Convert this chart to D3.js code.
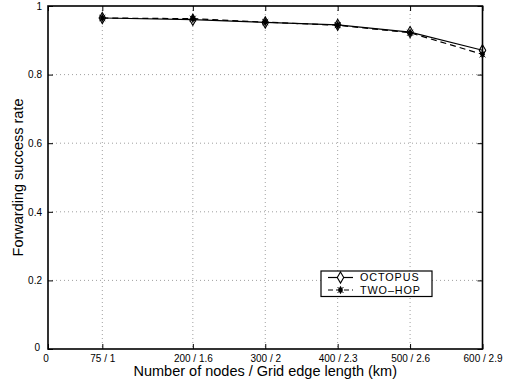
<!DOCTYPE html>
<html>
<head>
<meta charset="utf-8">
<script src="https://cdn.jsdelivr.net/npm/d3@7"></script>
<style>
  body { margin: 0; background: #fff; }
  text { font-family: "Liberation Sans", Arial, sans-serif; fill: #000; }
</style>
</head>
<body>
<script>
// data
const nodes = [75, 200, 300, 400, 500, 600];
const tickLabels = ["0", "75 / 1", "200 / 1.6", "300 / 2", "400 / 2.3", "500 / 2.6", "600 / 2.9"];
const xTicks = [0, 75, 200, 300, 400, 500, 600];
const yTicks = [0, 0.2, 0.4, 0.6, 0.8, 1];
const octopus = [0.965, 0.960, 0.952, 0.945, 0.924, 0.871];
const twoHop = [0.965, 0.963, 0.953, 0.944, 0.922, 0.859];
const seriesNames = ["OCTOPUS", "TWO\u2013HOP"];

const width = 508, height = 383;
const mLeft = 48, mRight = 482.5, mTop = 6, mBottom = 349;

const svg = d3.select("body").append("svg").attr("width", width).attr("height", height);

const x = d3.scaleLinear().domain([0, 600]).range([mLeft, mRight]);
const y = d3.scaleLinear().domain([0, 1]).range([mBottom, mTop]);

// grid
const grid = svg.append("g").attr("stroke", "#888").attr("stroke-width", 0.8).attr("stroke-dasharray", "1,3");
grid.selectAll(".vg").data(xTicks.slice(1, -1)).enter().append("line")
    .attr("x1", d => x(d)).attr("x2", d => x(d)).attr("y1", mTop).attr("y2", mBottom);
grid.selectAll(".hg").data(yTicks.slice(1, -1)).enter().append("line")
    .attr("x1", mLeft).attr("x2", mRight).attr("y1", d => y(d)).attr("y2", d => y(d));

// axes, ticks inward on all four sides
const xAxis = d3.axisBottom(x).tickValues(xTicks).tickSizeInner(-5).tickSizeOuter(0).tickPadding(6)
    .tickFormat((d, i) => tickLabels[i]);
const gx = svg.append("g").attr("transform", `translate(0,${mBottom})`).call(xAxis);
gx.select(".domain").remove();
gx.selectAll("text").attr("font-size", 10);
gx.selectAll(".tick").filter(d => d === 0).select("text").attr("dx", -2.5);

const yAxis = d3.axisLeft(y).tickValues(yTicks).tickSizeInner(-5).tickSizeOuter(0).tickPadding(6)
    .tickFormat(d => d === 0 ? "0" : d3.format("~g")(d));
const gy = svg.append("g").attr("transform", `translate(${mLeft},0)`).call(yAxis);
gy.select(".domain").remove();
gy.selectAll("text").attr("font-size", 10);
gy.selectAll(".tick").filter(d => d === 0).select("text").attr("dy", "0.1em").attr("x", -8);

svg.append("g").attr("transform", `translate(0,${mTop})`)
    .call(d3.axisTop(x).tickValues(xTicks).tickSizeInner(-5).tickSizeOuter(0).tickFormat(""))
    .select(".domain").remove();
svg.append("g").attr("transform", `translate(${mRight},0)`)
    .call(d3.axisRight(y).tickValues(yTicks).tickSizeInner(-5).tickSizeOuter(0).tickFormat(""))
    .select(".domain").remove();

svg.append("rect").attr("x", mLeft).attr("y", mTop).attr("width", mRight - mLeft).attr("height", mBottom - mTop)
    .attr("fill", "none").attr("stroke", "#000").attr("stroke-width", 1.6);

// titles
svg.append("text").attr("x", (mLeft + mRight) / 2).attr("y", 376).attr("text-anchor", "middle")
    .attr("font-size", 14.5).text("Number of nodes / Grid edge length (km)");
svg.append("text").attr("transform", `translate(23,${(mTop + mBottom) / 2}) rotate(-90)`)
    .attr("text-anchor", "middle").attr("font-size", 14.5).text("Forwarding success rate");

// series
const line = d3.line().x((d, i) => x(nodes[i])).y(d => y(d));
svg.append("path").datum(twoHop).attr("d", line).attr("fill", "none").attr("stroke", "#000")
    .attr("stroke-width", 1.2).attr("stroke-dasharray", "6,4");
svg.append("path").datum(octopus).attr("d", line).attr("fill", "none").attr("stroke", "#000")
    .attr("stroke-width", 1.2);

const diamond = d3.symbol().type(d3.symbolDiamond).size(36);

function starMarks(g) {
  g.append("path").attr("d", d3.symbol().type(d3.symbolDiamond).size(22)).attr("fill", "#000");
  g.append("path").attr("d", d3.symbol().type(d3.symbolTimes).size(24)).attr("stroke", "#000").attr("stroke-width", 1);
}

svg.selectAll(".th").data(twoHop).enter().append("g")
    .attr("transform", (d, i) => `translate(${x(nodes[i])},${y(d)})`).call(starMarks);
svg.selectAll(".oc").data(octopus).enter().append("path")
    .attr("transform", (d, i) => `translate(${x(nodes[i])},${y(d)})`)
    .attr("d", diamond).attr("fill", "none").attr("stroke", "#000").attr("stroke-width", 1.1);

// legend
const lg = svg.append("g").attr("transform", "translate(321,271)");
lg.append("rect").attr("width", 111).attr("height", 25.5).attr("fill", "#fff").attr("stroke", "#000").attr("stroke-width", 1.2);
const rows = lg.selectAll(".row").data(seriesNames).enter().append("g")
    .attr("transform", (d, i) => `translate(0,${6.5 + i * 12.5})`);
rows.append("line").attr("x1", 7).attr("x2", 32).attr("stroke", "#000").attr("stroke-width", 1.2)
    .attr("stroke-dasharray", (d, i) => i ? "5,3" : null);
rows.filter((d, i) => i === 0).append("path").attr("transform", "translate(19.5,0)")
    .attr("d", diamond).attr("fill", "#fff").attr("stroke", "#000").attr("stroke-width", 1.1);
rows.filter((d, i) => i === 1).append("g").attr("transform", "translate(19.5,0)").call(starMarks);
rows.append("text").attr("x", 39).attr("dy", "0.36em").attr("font-size", 10.8)
    .attr("letter-spacing", 0.9).text(d => d);
</script>
</body>
</html>
